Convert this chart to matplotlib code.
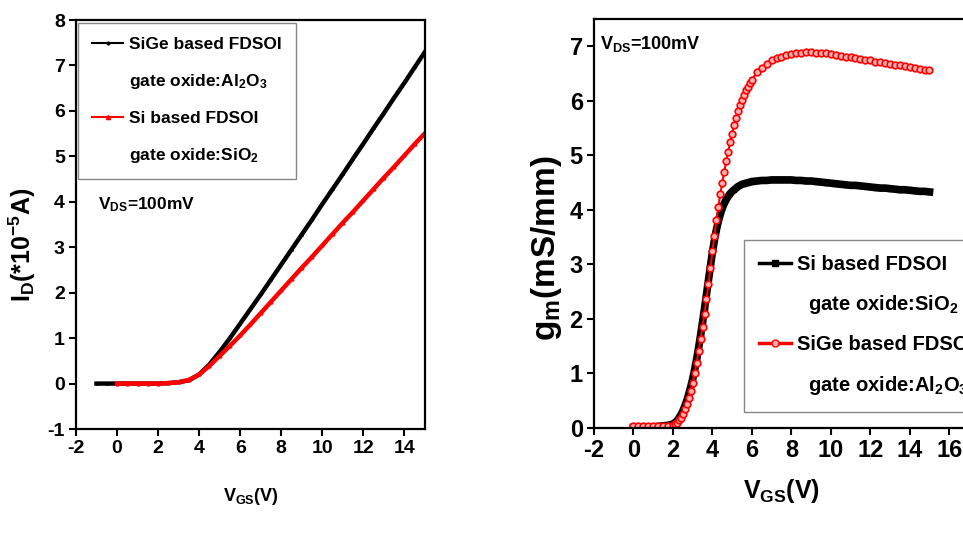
import numpy as np
import matplotlib
matplotlib.use("Agg")
import matplotlib.pyplot as plt
from matplotlib.lines import Line2D

plt.rcParams['font.family'] = ['Liberation Sans', 'DejaVu Sans']
plt.rcParams['font.weight'] = 'bold'
plt.rcParams['axes.labelweight'] = 'bold'
plt.rcParams['mathtext.fontset'] = 'custom'
plt.rcParams['mathtext.rm'] = 'Liberation Sans:bold'
plt.rcParams['mathtext.it'] = 'Liberation Sans:bold'
plt.rcParams['mathtext.bf'] = 'Liberation Sans:bold'
plt.rcParams['mathtext.default'] = 'rm'
plt.rcParams['axes.unicode_minus'] = False

# ---- left panel: transfer characteristics, I_D (x1e-5 A) vs V_GS ----
vgs_sige = np.arange(-1.0, 15.01, 0.5)
id_sige = [0, 0, 0, 0, 0, 0, 0, 0.01, 0.03, 0.07, 0.20, 0.42, 0.70, 1.00,
           1.32, 1.64, 1.96, 2.29, 2.62, 2.95, 3.28, 3.61, 3.95, 4.28, 4.61,
           4.95, 5.28, 5.62, 5.95, 6.29, 6.62, 6.96, 7.30]
vgs_si = np.arange(0.0, 15.01, 0.5)
id_si = [0, 0, 0, 0, 0, 0.01, 0.03, 0.08, 0.20, 0.39, 0.61, 0.83, 1.06,
         1.30, 1.55, 1.80, 2.05, 2.30, 2.55, 2.79, 3.04, 3.29, 3.54, 3.78,
         4.03, 4.28, 4.53, 4.77, 5.02, 5.27, 5.51]

# ---- right panel: transconductance g_m (mS/mm) vs V_GS ----
vgs_gm = np.round(np.concatenate([np.arange(0, 2.01, 0.25),
                                  np.arange(2.1, 6.01, 0.1),
                                  np.arange(6.25, 15.01, 0.25)]), 2)
gm_si = [0.01, 0.01, 0.01, 0.02, 0.02, 0.03, 0.04, 0.05, 0.07,
         0.10, 0.13, 0.18, 0.24, 0.31, 0.40, 0.50, 0.62, 0.75, 0.90,
         1.07, 1.26, 1.47, 1.70, 1.94, 2.19, 2.45, 2.71, 2.97, 3.22,
         3.44, 3.63, 3.79, 3.92, 4.03, 4.12, 4.19, 4.25, 4.30, 4.34,
         4.37, 4.40, 4.43, 4.45, 4.47, 4.48, 4.49, 4.50, 4.51, 4.52,
         4.53, 4.54, 4.54, 4.55, 4.55, 4.55, 4.55, 4.55, 4.54, 4.54,
         4.53, 4.53, 4.52, 4.51, 4.50, 4.49, 4.48, 4.47, 4.46, 4.45,
         4.45, 4.44, 4.43, 4.42, 4.41, 4.40, 4.40, 4.39, 4.38, 4.37,
         4.37, 4.36, 4.35, 4.34, 4.34, 4.33]
gm_sige = [0.03, 0.03, 0.03, 0.03, 0.03, 0.03, 0.04, 0.04, 0.05,
           0.07, 0.10, 0.14, 0.19, 0.26, 0.34, 0.44, 0.55, 0.68, 0.83,
           1.00, 1.20, 1.41, 1.63, 1.86, 2.10, 2.36, 2.64, 2.94, 3.24,
           3.53, 3.81, 4.06, 4.29, 4.50, 4.70, 4.89, 5.07, 5.24, 5.40,
           5.55, 5.69, 5.81, 5.92, 6.02, 6.11, 6.19, 6.26, 6.33, 6.39,
           6.52, 6.61, 6.68, 6.74, 6.78, 6.81, 6.84, 6.86, 6.87, 6.88,
           6.89, 6.89, 6.88, 6.88, 6.87, 6.86, 6.84, 6.83, 6.81, 6.80,
           6.78, 6.77, 6.75, 6.74, 6.72, 6.71, 6.69, 6.68, 6.66, 6.65,
           6.63, 6.62, 6.60, 6.59, 6.57, 6.56]

fig = plt.figure(figsize=(9.63, 5.47), dpi=100)
ax1 = fig.add_axes([0.0789, 0.2157, 0.3624, 0.7477])
ax2 = fig.add_axes([0.6168, 0.2175, 0.3894, 0.7477])


def style_axes(ax, tick_fs):
    for s in ax.spines.values():
        s.set_linewidth(1.6)
    ax.tick_params(direction='out', length=5, width=1.5, labelsize=tick_fs,
                   top=False, right=False, pad=3)
    for lab in ax.get_xticklabels() + ax.get_yticklabels():
        lab.set_fontweight('bold')


# left panel
ax1.plot(vgs_sige, id_sige, color='black', lw=3.2, marker='.', ms=2)
ax1.plot(vgs_si, id_si, color='red', lw=3.2, marker='^', ms=2)
ax1.set_xlim(-2, 15)
ax1.set_ylim(-1, 8)
ax1.set_xticks(range(-2, 15, 2))
ax1.set_yticks(range(-1, 9))
style_axes(ax1, 14)
ax1.set_xlabel('V$_{GS}$(V)', fontsize=13, labelpad=21)
ax1.set_ylabel('I$_D$(*10$^{-5}$A)', fontsize=18)
ax1.yaxis.set_label_coords(-0.11, 0.45)
ax1.text(0.063, 0.548, 'V$_{DS}$=100mV', transform=ax1.transAxes,
         fontsize=12.5, va='center')

h_sige = Line2D([], [], color='black', lw=1.5, marker='.', ms=4)
h_si = Line2D([], [], color='red', lw=1.5, marker='^', ms=3)
blank = Line2D([], [], linestyle='none')
leg1 = ax1.legend([h_sige, blank, h_si, blank],
                  ['SiGe based FDSOI', 'gate oxide:Al$_2$O$_3$',
                   'Si based FDSOI', 'gate oxide:SiO$_2$'],
                  loc='upper left', bbox_to_anchor=(0.006, 0.993),
                  borderaxespad=0, fontsize=12.5, fancybox=False,
                  edgecolor='#888888', framealpha=1, handlelength=1.8,
                  handletextpad=0.35, labelspacing=1.15, borderpad=0.8,
                  numpoints=1)
leg1.get_frame().set_linewidth(1.0)

# right panel
ax2.plot(vgs_gm, gm_si, color='black', lw=5.5, marker='s', ms=3)
ax2.plot(vgs_gm, gm_sige, color='red', lw=1.5, marker='o', ms=4.8,
         mfc='#ffb0b0', mec='red', mew=1.2)
ax2.set_xlim(-2, 17)
ax2.set_ylim(0, 7.5)
ax2.set_xticks(range(-2, 17, 2))
ax2.set_yticks(range(0, 8))
style_axes(ax2, 17)
ax2.set_xlabel('V$_{GS}$(V)', fontsize=18, labelpad=11)
ax2.set_ylabel('g$_m$(mS/mm)', fontsize=24)
ax2.yaxis.set_label_coords(-0.08, 0.44)
ax2.text(0.016, 0.94, 'V$_{DS}$=100mV', transform=ax2.transAxes,
         fontsize=13, va='center')

h_si2 = Line2D([], [], color='black', lw=2.5, marker='s', ms=4)
h_sige2 = Line2D([], [], color='red', lw=2.5, marker='o', ms=5,
                 mfc='#ffb0b0', mec='red')
leg2 = ax2.legend([h_si2, blank, h_sige2, blank],
                  ['Si based FDSOI', '  gate oxide:SiO$_2$',
                   'SiGe based FDSOI', '  gate oxide:Al$_2$O$_3$'],
                  loc='lower left', bbox_to_anchor=(0.40, 0.04),
                  borderaxespad=0, fontsize=14.5, fancybox=False,
                  edgecolor='#888888', framealpha=1, handlelength=1.6,
                  handletextpad=0.3, labelspacing=0.95, borderpad=0.75,
                  numpoints=1)
leg2.get_frame().set_linewidth(1.0)

fig.savefig('out.png', dpi=100)
